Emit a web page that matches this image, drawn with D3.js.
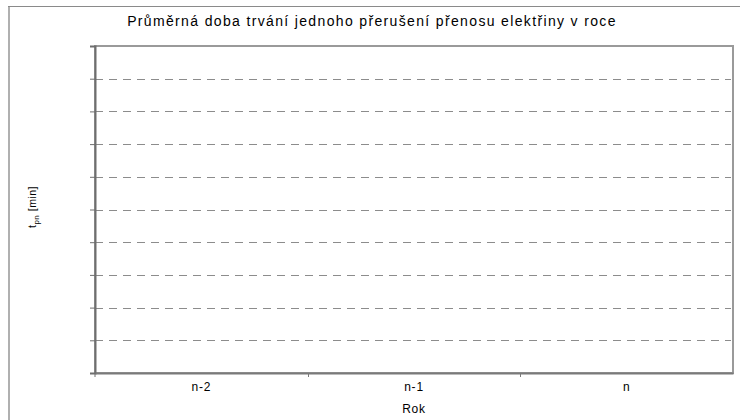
<!DOCTYPE html>
<html><head><meta charset="utf-8">
<script src="https://cdn.jsdelivr.net/npm/d3@7"></script>
<style>html,body{margin:0;padding:0;background:#fff;}svg{display:block;}</style>
</head><body>
<script>
const categories = ["n-2", "n-1", "n"];
const values = [null, null, null];
const yTicks = [0, 1, 2, 3, 4, 5, 6, 7, 8, 9, 10];
const title = "Průměrná doba trvání jednoho přerušení přenosu elektřiny v roce";
const xTitle = "Rok";

const W = 740, H = 420;
const m = {left: 95, top: 46, right: 7, bottom: 47};
const svg = d3.select("body").append("svg").attr("width", W).attr("height", H)
  .style("font-family", "'Liberation Sans', Arial, sans-serif");

// outer chart border
svg.append("line").attr("x1", 9).attr("x2", 9).attr("y1", 6).attr("y2", H + 5)
  .attr("stroke", "#b0b0b0").attr("stroke-width", 2);
svg.append("line").attr("x1", 8).attr("x2", W + 5).attr("y1", 6.5).attr("y2", 6.5)
  .attr("stroke", "#8a8a8a").attr("stroke-width", 1);

const x = d3.scaleBand().domain(categories).range([m.left, W - m.right]).padding(0);
const y = d3.scaleLinear().domain([0, 10]).range([H - m.bottom, m.top]);

// plot area border (top & right)
svg.append("rect").attr("x", m.left).attr("y", m.top)
  .attr("width", W - m.right - m.left).attr("height", H - m.bottom - m.top)
  .attr("fill", "none").attr("stroke", "#9a9a9a").attr("stroke-width", 2);

// gridlines
svg.append("g").selectAll("line").data(yTicks.filter(t => t > 0 && t < 10)).join("line")
  .attr("x1", m.left).attr("x2", W - m.right - 2)
  .attr("y1", d => Math.round(y(d)) + 0.5).attr("y2", d => Math.round(y(d)) + 0.5)
  .attr("stroke", "#8c8c8c").attr("stroke-dasharray", "8,6");

// bars (no data values present)
svg.append("g").selectAll("rect").data(categories.map((c, i) => ({c, v: values[i]})).filter(d => d.v != null)).join("rect")
  .attr("x", d => x(d.c) + x.bandwidth() * 0.25).attr("width", x.bandwidth() * 0.5)
  .attr("y", d => y(d.v)).attr("height", d => y(0) - y(d.v)).attr("fill", "#9999ff");

// y axis
const yAxis = svg.append("g").attr("transform", `translate(${m.left},0)`)
  .call(d3.axisLeft(y).tickValues(yTicks).tickSize(5).tickFormat(""));
yAxis.select(".domain").attr("stroke", "#6e6e6e").attr("stroke-width", 2);
yAxis.selectAll(".tick line").attr("stroke", "#6e6e6e");

// x axis
const xAxis = svg.append("g").attr("transform", `translate(0,${H - m.bottom})`)
  .call(d3.axisBottom(x).tickSize(0).tickPadding(9));
xAxis.select(".domain").attr("stroke", "#7a7a7a").attr("stroke-width", 2);
xAxis.selectAll(".tick text").attr("font-size", 12).attr("fill", "#000")
  .attr("letter-spacing", 0.8)
  .attr("font-family", "'Liberation Sans', Arial, sans-serif");
// boundary ticks
svg.append("g").selectAll("line").data(categories.slice(1)).join("line")
  .attr("x1", d => Math.round(x(d)) + 0.5).attr("x2", d => Math.round(x(d)) + 0.5)
  .attr("y1", H - m.bottom).attr("y2", H - m.bottom + 4).attr("stroke", "#7a7a7a");
svg.append("line").attr("x1", m.left).attr("x2", m.left).attr("y1", H - m.bottom).attr("y2", H - m.bottom + 4).attr("stroke", "#6e6e6e");

// title
svg.append("text").attr("x", 372).attr("y", 26).attr("text-anchor", "middle")
  .attr("font-size", 14).attr("letter-spacing", 1.35).attr("fill", "#000").text(title);

// x title
svg.append("text").attr("x", 414).attr("y", 413).attr("text-anchor", "middle")
  .attr("font-size", 12).attr("letter-spacing", 0.8).attr("fill", "#000").text(xTitle);

// y title
const yt = svg.append("text").attr("transform", "translate(36,207) rotate(-90)")
  .attr("text-anchor", "middle").attr("font-size", 10.5).attr("letter-spacing", 0.5).attr("fill", "#000");
yt.append("tspan").text("t");
yt.append("tspan").attr("font-size", 8).attr("dy", 3).text("pn");
yt.append("tspan").attr("dy", -3).text(" [min]");
</script>
</body></html>
